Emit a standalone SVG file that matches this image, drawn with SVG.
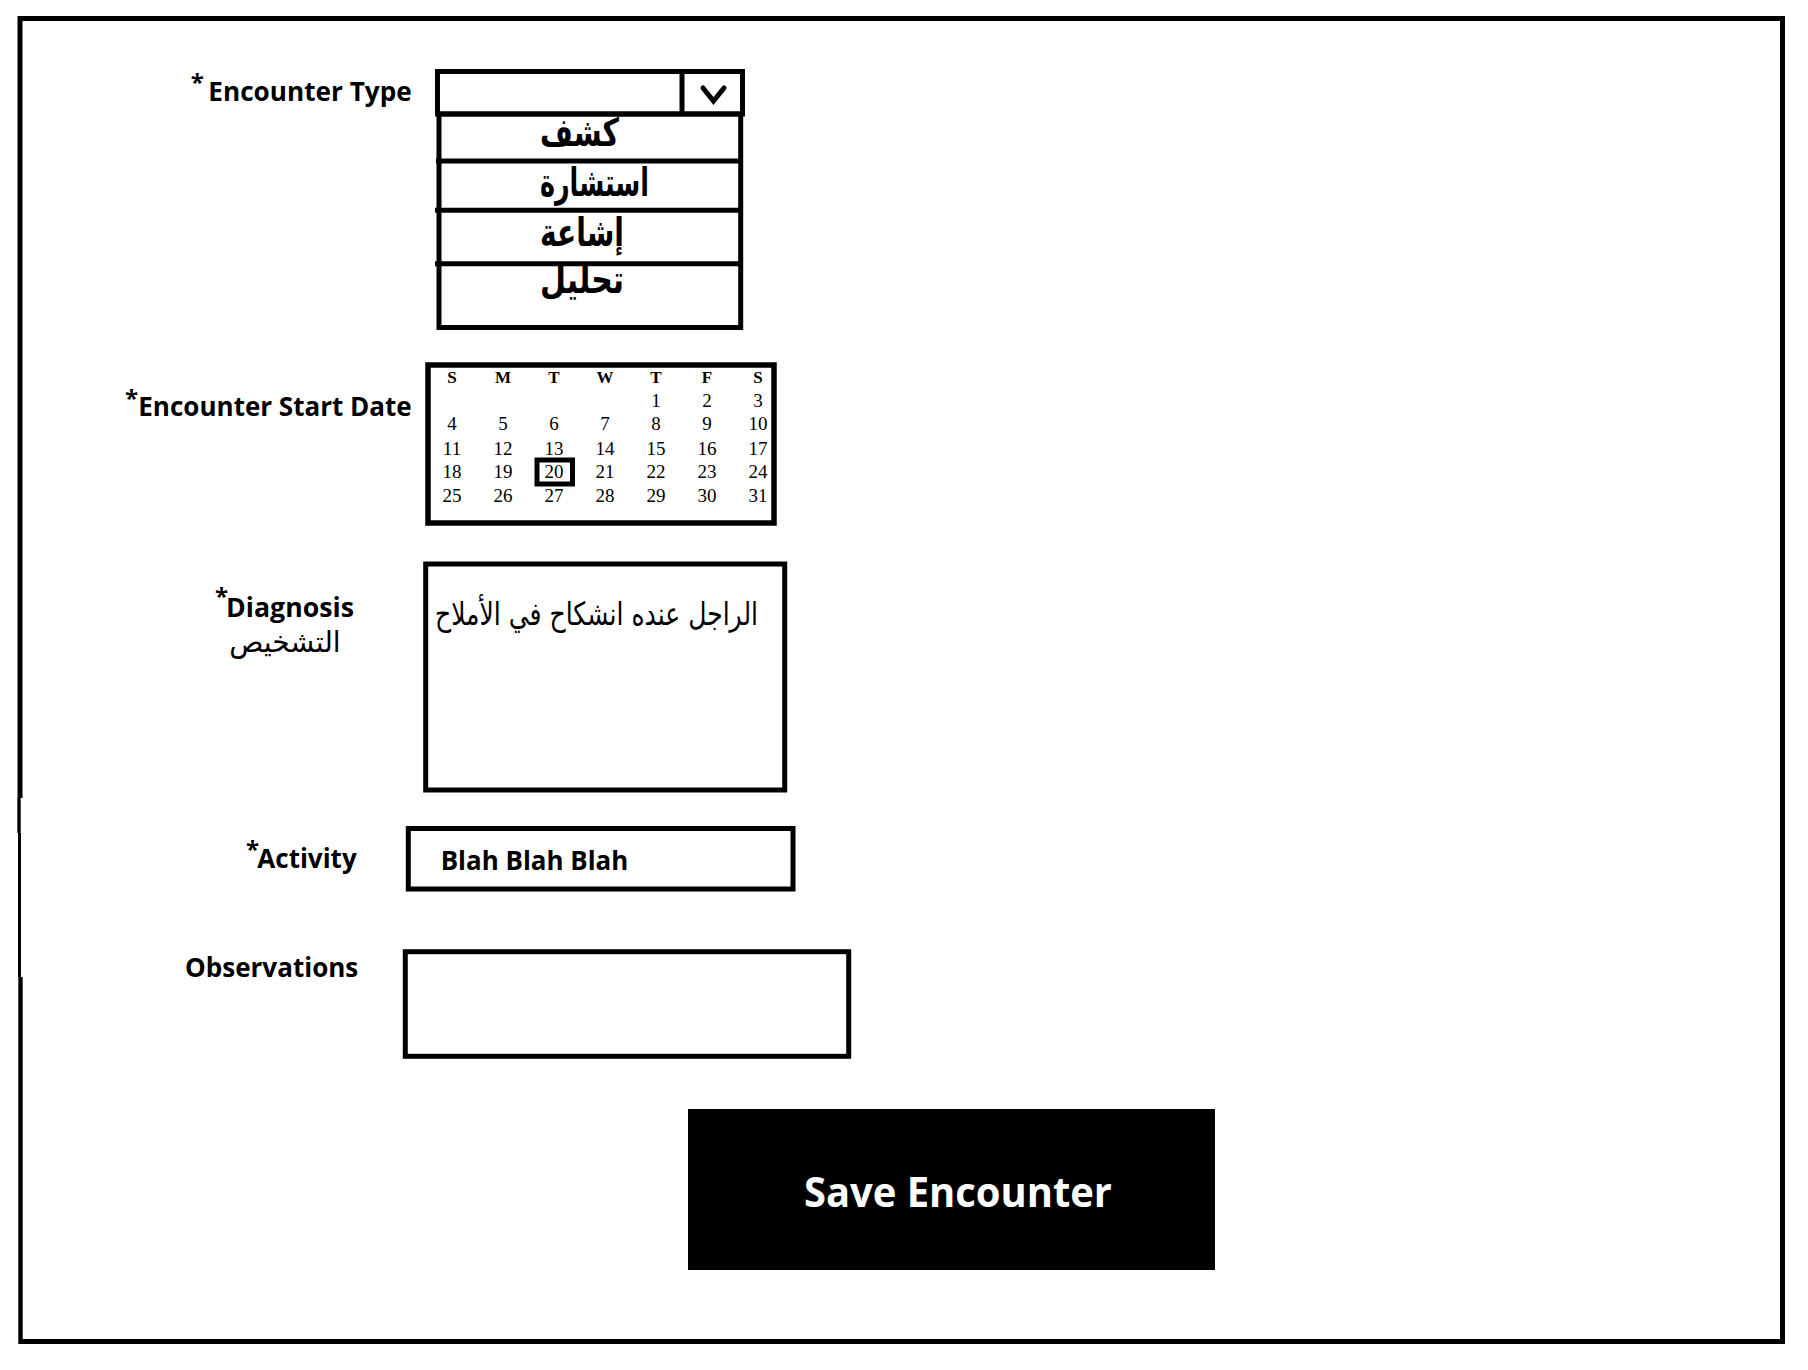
<svg xmlns="http://www.w3.org/2000/svg" width="1808" height="1370" viewBox="0 0 1808 1370">
<style>
.ln{fill:none;stroke:#000;stroke-width:5}
.lbl{font-family:"Open Sans","Noto Sans","Liberation Sans",sans-serif;font-weight:700;font-size:26px;fill:#000}
.ast{font-family:"Open Sans","Noto Sans","Liberation Sans",sans-serif;font-weight:700;font-size:24px;fill:#000}
.ar{font-family:"DejaVu Sans","Noto Sans",sans-serif;fill:#000}
.arb{font-family:"DejaVu Sans","Noto Sans",sans-serif;font-weight:700;font-size:39px;fill:#000}
.cal{font-family:"Liberation Serif","Times New Roman",serif;font-size:19px;fill:#000;text-anchor:middle}
.calh{font-family:"Liberation Serif","Times New Roman",serif;font-size:17px;font-weight:700;fill:#000;text-anchor:middle}
</style>
<rect x="0" y="0" width="1808" height="1370" fill="#fff"/>
<g id="frame">
<path class="ln" d="M20 18.5 H1782.5 V1341.5 H20"/>
<line x1="20" y1="16" x2="20" y2="798" stroke="#000" stroke-width="5"/>
<line x1="19" y1="798" x2="19" y2="833" stroke="#000" stroke-width="3.4"/>
<line x1="19.5" y1="833" x2="19.5" y2="977" stroke="#000" stroke-width="3"/>
<line x1="20.5" y1="977" x2="20.5" y2="1344" stroke="#000" stroke-width="4.4"/>
</g>
<g id="connectors"></g>
<g id="encounter-type-label">
<text class="ast" x="190.7" y="91">*</text>
<text class="lbl" x="208.3" y="100.7" textLength="203.4" lengthAdjust="spacingAndGlyphs">Encounter Type</text>
</g>
<g id="encounter-type-dropdown">
<rect class="ln" x="437.5" y="71.5" width="305" height="42.5"/>
<line class="ln" x1="682" y1="71.5" x2="682" y2="114"/>
<polyline class="ln" points="703,88 713.5,101 724,88" stroke-linecap="round"/>
</g>
<g id="encounter-type-options">
<rect class="ln" x="439" y="114" width="301.7" height="213.5"/>
<line class="ln" x1="436" y1="161" x2="741" y2="161"/>
<line class="ln" x1="435" y1="210.3" x2="741" y2="210.3"/>
<line class="ln" x1="435" y1="263.7" x2="741" y2="263.7"/>
<text class="arb" x="540" y="146" textLength="79" lengthAdjust="spacingAndGlyphs">كشف</text>
<text class="arb" x="540" y="196" textLength="109" lengthAdjust="spacingAndGlyphs">استشارة</text>
<text class="arb" x="540" y="246" textLength="84" lengthAdjust="spacingAndGlyphs">إشاعة</text>
<text class="arb" x="540" y="293" textLength="84" lengthAdjust="spacingAndGlyphs">تحليل</text>
</g>
<g id="start-date-label">
<text class="ast" x="125" y="407">*</text>
<text class="lbl" x="138.3" y="416" textLength="273.4" lengthAdjust="spacingAndGlyphs">Encounter Start Date</text>
</g>
<g id="start-date-calendar">
<rect x="428" y="365" width="346" height="158" fill="none" stroke="#000" stroke-width="5.5"/>
<rect class="ln" x="537" y="460" width="35.5" height="24"/>
<text class="calh" x="452" y="383.3">S</text>
<text class="calh" x="503" y="383.3">M</text>
<text class="calh" x="554" y="383.3">T</text>
<text class="calh" x="605" y="383.3">W</text>
<text class="calh" x="656" y="383.3">T</text>
<text class="calh" x="707" y="383.3">F</text>
<text class="calh" x="758" y="383.3">S</text>
<text class="cal" x="656" y="406.7">1</text>
<text class="cal" x="707" y="406.7">2</text>
<text class="cal" x="758" y="406.7">3</text>
<text class="cal" x="452" y="430">4</text>
<text class="cal" x="503" y="430">5</text>
<text class="cal" x="554" y="430">6</text>
<text class="cal" x="605" y="430">7</text>
<text class="cal" x="656" y="430">8</text>
<text class="cal" x="707" y="430">9</text>
<text class="cal" x="758" y="430">10</text>
<text class="cal" x="452" y="455">11</text>
<text class="cal" x="503" y="455">12</text>
<text class="cal" x="554" y="455">13</text>
<text class="cal" x="605" y="455">14</text>
<text class="cal" x="656" y="455">15</text>
<text class="cal" x="707" y="455">16</text>
<text class="cal" x="758" y="455">17</text>
<text class="cal" x="452" y="478.3">18</text>
<text class="cal" x="503" y="478.3">19</text>
<text class="cal" x="554" y="478.3">20</text>
<text class="cal" x="605" y="478.3">21</text>
<text class="cal" x="656" y="478.3">22</text>
<text class="cal" x="707" y="478.3">23</text>
<text class="cal" x="758" y="478.3">24</text>
<text class="cal" x="452" y="501.7">25</text>
<text class="cal" x="503" y="501.7">26</text>
<text class="cal" x="554" y="501.7">27</text>
<text class="cal" x="605" y="501.7">28</text>
<text class="cal" x="656" y="501.7">29</text>
<text class="cal" x="707" y="501.7">30</text>
<text class="cal" x="758" y="501.7">31</text>
</g>
<g id="diagnosis-label">
<text class="ast" x="215" y="605">*</text>
<text class="lbl" x="226" y="616.7" textLength="128" lengthAdjust="spacingAndGlyphs">Diagnosis</text>
<text class="ar" x="229.3" y="651.5" style="font-size:29px" textLength="111.4" lengthAdjust="spacingAndGlyphs">التشخيص</text>
</g>
<g id="diagnosis-box">
<rect class="ln" x="425.7" y="564" width="359" height="226"/>
<text class="ar" x="435" y="625" style="font-size:32px" textLength="323" lengthAdjust="spacingAndGlyphs">الراجل عنده انشكاح في الأملاح</text>
</g>
<g id="activity-label">
<text class="ast" x="246" y="857.7">*</text>
<text class="lbl" x="257.3" y="868.3" textLength="99.4" lengthAdjust="spacingAndGlyphs">Activity</text>
</g>
<g id="activity-box">
<rect class="ln" x="408.3" y="828.5" width="384.7" height="60.5"/>
<text class="lbl" x="440.7" y="870" style="font-size:27px" textLength="187.6" lengthAdjust="spacingAndGlyphs">Blah Blah Blah</text>
</g>
<g id="observations-label">
<text class="lbl" x="185" y="976.7" textLength="173.3" lengthAdjust="spacingAndGlyphs">Observations</text>
</g>
<g id="observations-box">
<rect class="ln" x="405.3" y="951.7" width="443.4" height="104.6"/>
</g>
<g id="save-button">
<rect x="688" y="1109" width="527" height="161" fill="#000"/>
<text class="lbl" x="804" y="1206.7" style="font-size:42px;fill:#fff" textLength="308" lengthAdjust="spacingAndGlyphs">Save Encounter</text>
</g>
</svg>
